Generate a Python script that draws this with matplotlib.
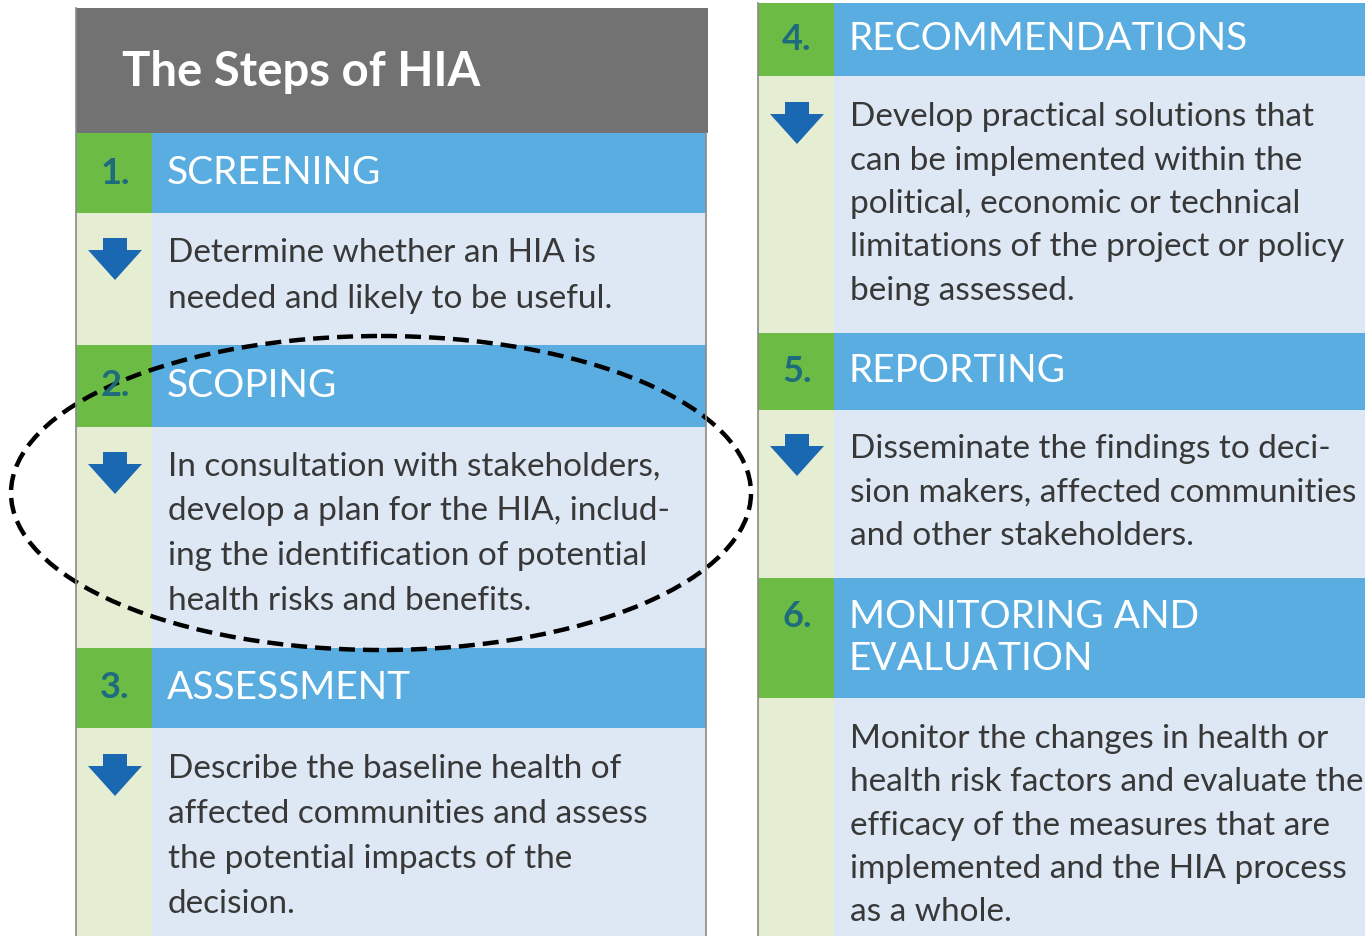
import matplotlib.pyplot as plt
from matplotlib.patches import Rectangle, Polygon, Ellipse

plt.rcParams['font.family'] = ['Lato', 'DejaVu Sans']

# content
title = "The Steps of HIA"
step_nums = ["1.", "2.", "3.", "4.", "5.", "6."]
step_titles = [["SCREENING"], ["SCOPING"], ["ASSESSMENT"],
               ["RECOMMENDATIONS"], ["REPORTING"], ["MONITORING AND", "EVALUATION"]]
step_texts = [
    ["Determine whether an HIA is", "needed and likely to be useful."],
    ["In consultation with stakeholders,", "develop a plan for the HIA, includ-",
     "ing the identification of potential", "health risks and benefits."],
    ["Describe the baseline health of", "affected communities and assess",
     "the potential impacts of the", "decision."],
    ["Develop practical solutions that", "can be implemented within the",
     "political, economic or technical", "limitations of the project or policy",
     "being assessed."],
    ["Disseminate the findings to deci-", "sion makers, affected communities",
     "and other stakeholders."],
    ["Monitor the changes in health or", "health risk factors and evaluate the",
     "efficacy of the measures that are", "implemented and the HIA process",
     "as a whole."],
]
has_arrow = [True, True, True, True, True, False]

# layout (pixels)
col_x0 = [76, 76, 76, 758, 758, 758]
col_x1 = [706, 706, 706, 1365, 1365, 1365]
head_y = [(133, 213), (345, 427), (648, 728), (3, 76), (333, 410), (578, 698)]
body_y = [(213, 345), (427, 648), (728, 936), (76, 333), (410, 578), (698, 936)]
first_line = [253, 467, 769, 117, 449, 739]
line_gap = [46, 44.5, 45, 43.5, 43.5, 43.3]
strip_w = 76

GRAY = "#727272"
GREEN = "#6bbb45"
BLUE = "#59ade0"
BODY = "#dde8f4"
STRIP = "#e5edd2"
NUMC = "#1d6b7d"
ARROW = "#1a68b2"
TXT = "#383838"

fig = plt.figure(figsize=(13.65, 9.36), dpi=100)
ax = fig.add_axes([0, 0, 1, 1])
ax.set_xlim(0, 1365)
ax.set_ylim(936, 0)
ax.axis("off")

# title block
ax.add_patch(Rectangle((76, 8), 632, 125, color=GRAY, lw=0))
ax.text(122, 72, title, color="white", fontsize=34, fontweight="bold",
        va="center", ha="left")

for i in range(6):
    x0, x1 = col_x0[i], col_x1[i]
    h0, h1 = head_y[i]
    b0, b1 = body_y[i]
    ax.add_patch(Rectangle((x0, h0), strip_w, h1 - h0, color=GREEN, lw=0))
    ax.add_patch(Rectangle((x0 + strip_w, h0), x1 - x0 - strip_w, h1 - h0, color=BLUE, lw=0))
    ax.add_patch(Rectangle((x0, b0), strip_w, b1 - b0, color=STRIP, lw=0))
    ax.add_patch(Rectangle((x0 + strip_w, b0), x1 - x0 - strip_w, b1 - b0, color=BODY, lw=0))

    hc = (h0 + h1) / 2
    n = len(step_titles[i])
    for k, t in enumerate(step_titles[i]):
        y = hc + (k - (n - 1) / 2) * 43
        ax.text(x0 + 91, y, t, color="white", fontsize=28, va="center", ha="left")
    ax.text(x0 + 39, hc - (n - 1) / 2 * 43, step_nums[i], color=NUMC, fontsize=26,
            fontweight="bold", va="center", ha="center")

    for k, line in enumerate(step_texts[i]):
        ax.text(x0 + 92, first_line[i] + k * line_gap[i], line, color=TXT,
                fontsize=24, va="center", ha="left")

    if has_arrow[i]:
        cx = x0 + 39
        top = first_line[i] - 15
        arrow = [(cx - 12, top), (cx + 12, top), (cx + 12, top + 12),
                 (cx + 27, top + 12), (cx, top + 42), (cx - 27, top + 12),
                 (cx - 12, top + 12)]
        ax.add_patch(Polygon(arrow, closed=True, color=ARROW, lw=0))

# panel border lines
ax.plot([76, 76], [8, 936], color="#8a8a8a", lw=1.2)
ax.plot([706, 706], [133, 936], color="#8a8a8a", lw=1.2)
ax.plot([758, 758], [3, 936], color="#8a8a8a", lw=1.2)

# dashed highlight around step 2
ax.add_patch(Ellipse((381, 493), 740, 314, fill=False, ec="black", lw=3.2,
                     ls=(0, (3.6, 1.8))))

fig.savefig("out.png", dpi=100)
